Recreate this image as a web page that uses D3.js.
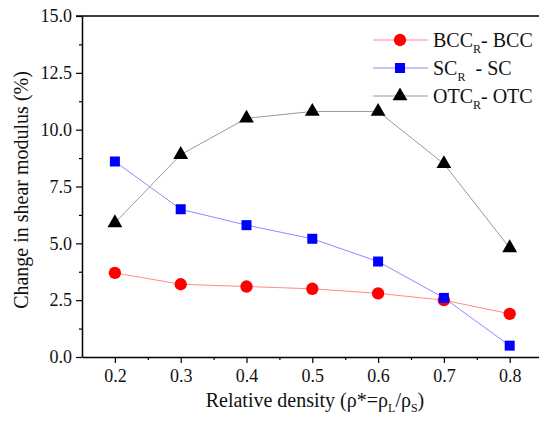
<!DOCTYPE html>
<html>
<head>
<meta charset="utf-8">
<script src="https://cdn.jsdelivr.net/npm/d3@7"></script>
<style>
  html, body { margin: 0; padding: 0; background: #fff; }
</style>
</head>
<body>
<div id="chart"></div>
<script>
// ===== data =====
const density = [0.2, 0.3, 0.4, 0.5, 0.6, 0.7, 0.8];
const bccValues = [3.7, 3.2, 3.1, 3.0, 2.8, 2.5, 1.9];
const scValues  = [8.6, 6.5, 5.8, 5.2, 4.2, 2.6, 0.5];
const otcValues = [5.9, 8.9, 10.5, 10.8, 10.8, 8.5, 4.8];
const yTicks = [0, 2.5, 5, 7.5, 10, 12.5, 15];
const xTicks = [0.2, 0.3, 0.4, 0.5, 0.6, 0.7, 0.8];
const seriesNames = ["BCC", "SC", "OTC"];

(function () {
  const W = 539, H = 421;
  const FONT = "Liberation Serif";
  const m = { top: 16, left: 82, bottom: 64 };
  const plotBottom = H - m.bottom;

  const svg = d3.select("#chart").append("svg")
    .attr("width", W).attr("height", H)
    .attr("font-family", FONT);

  const x = d3.scaleLinear().domain([0.15, 0.85]).range([m.left, m.left + 0.7 * 658]);
  const y = d3.scaleLinear().domain([0, 15]).range([plotBottom, m.top]);

  // series set-up: marker colour, line colour, symbol
  const series = [
    { name: "BCC", values: bccValues, fill: "#ff0000", line: "#ff8c8c", sym: d3.symbolCircle, size: 120, gap: "" },
    { name: "SC",  values: scValues,  fill: "#0000ff", line: "#8c8cff", sym: d3.symbolSquare, size: 100, gap: "  " },
    { name: "OTC", values: otcValues, fill: "#000000", line: "#9a9a9a", sym: d3.symbolTriangle, size: 95, gap: "" }
  ];

  // ---- axes ----
  const fmt = d3.format(".1f");
  const minorY = d3.range(1.25, 15, 2.5);
  const minorX = d3.range(0.25, 0.86, 0.1);

  svg.append("g").attr("transform", `translate(${m.left},0)`)
    .call(d3.axisLeft(y).tickValues(yTicks).tickFormat(fmt).tickSize(6).tickPadding(4).tickSizeOuter(0));
  svg.append("g").attr("transform", `translate(${m.left},0)`)
    .call(d3.axisLeft(y).tickValues(minorY).tickFormat("").tickSize(3).tickSizeOuter(0))
    .call(g => g.select(".domain").remove());

  svg.append("g").attr("transform", `translate(0,${plotBottom})`)
    .call(d3.axisBottom(x).tickValues(xTicks).tickFormat(fmt).tickSize(6).tickPadding(6).tickSizeOuter(0));
  svg.append("g").attr("transform", `translate(0,${plotBottom})`)
    .call(d3.axisBottom(x).tickValues(minorX).tickFormat("").tickSize(3).tickSizeOuter(0))
    .call(g => g.select(".domain").remove());

  // d3 axis puts sans-serif on its groups -> take it back
  svg.selectAll("g").attr("font-family", FONT);

  // top frame line
  svg.append("line")
    .attr("x1", m.left - 6).attr("x2", x(0.85))
    .attr("y1", y(15)).attr("y2", y(15))
    .attr("stroke", "#000").attr("stroke-width", 1.5);

  svg.selectAll(".domain").attr("stroke-width", 1.5);
  svg.selectAll(".tick line").attr("stroke-width", 1.2);
  svg.selectAll(".tick text")
    .attr("font-family", FONT).attr("font-size", 18).attr("fill", "#111");

  // ---- lines + markers ----
  const line = d3.line().x((d, i) => x(density[i])).y(d => y(d));
  series.forEach(s => {
    svg.append("path").datum(s.values)
      .attr("d", line).attr("fill", "none")
      .attr("stroke", s.line).attr("stroke-width", 1);
  });
  series.forEach(s => {
    svg.append("g").selectAll("path")
      .data(s.values)
      .join("path")
      .attr("transform", (d, i) => `translate(${x(density[i])},${y(d)})`)
      .attr("d", d3.symbol(s.sym, s.size))
      .attr("fill", s.fill);
  });

  // ---- legend ----
  const leg = svg.append("g").attr("transform", "translate(373,40)");
  series.forEach((s, i) => {
    const row = leg.append("g").attr("transform", `translate(0,${i * 28})`);
    row.append("line").attr("x1", 0).attr("x2", 55)
      .attr("stroke", s.line).attr("stroke-width", 1);
    row.append("path").attr("transform", "translate(27,0)")
      .attr("d", d3.symbol(s.sym, s.size)).attr("fill", s.fill);
    const t = row.append("text").attr("x", 60).attr("y", 7)
      .attr("font-family", FONT).attr("fill", "#111")
      .attr("font-size", 20).attr("xml:space", "preserve");
    t.append("tspan").text(seriesNames[i]);
    t.append("tspan").attr("font-size", 12).attr("dy", 6).text("R");
    t.append("tspan").attr("dy", -6).text(s.gap + "- " + seriesNames[i]);
  });

  // ---- axis titles ----
  const xt = svg.append("text")
    .attr("x", 315).attr("y", 407)
    .attr("font-family", FONT).attr("fill", "#111")
    .attr("text-anchor", "middle").attr("font-size", 20);
  xt.append("tspan").text("Relative density (ρ*=ρ");
  xt.append("tspan").attr("font-size", 12).attr("dy", 5).text("L");
  xt.append("tspan").attr("dy", -5).text("/ρ");
  xt.append("tspan").attr("font-size", 12).attr("dy", 5).text("S");
  xt.append("tspan").attr("dy", -5).text(")");

  svg.append("text")
    .attr("transform", `translate(28,190) rotate(-90)`)
    .attr("font-family", FONT).attr("fill", "#111")
    .attr("text-anchor", "middle").attr("font-size", 20)
    .text("Change in shear modulus (%)");
})();
</script>
</body>
</html>
